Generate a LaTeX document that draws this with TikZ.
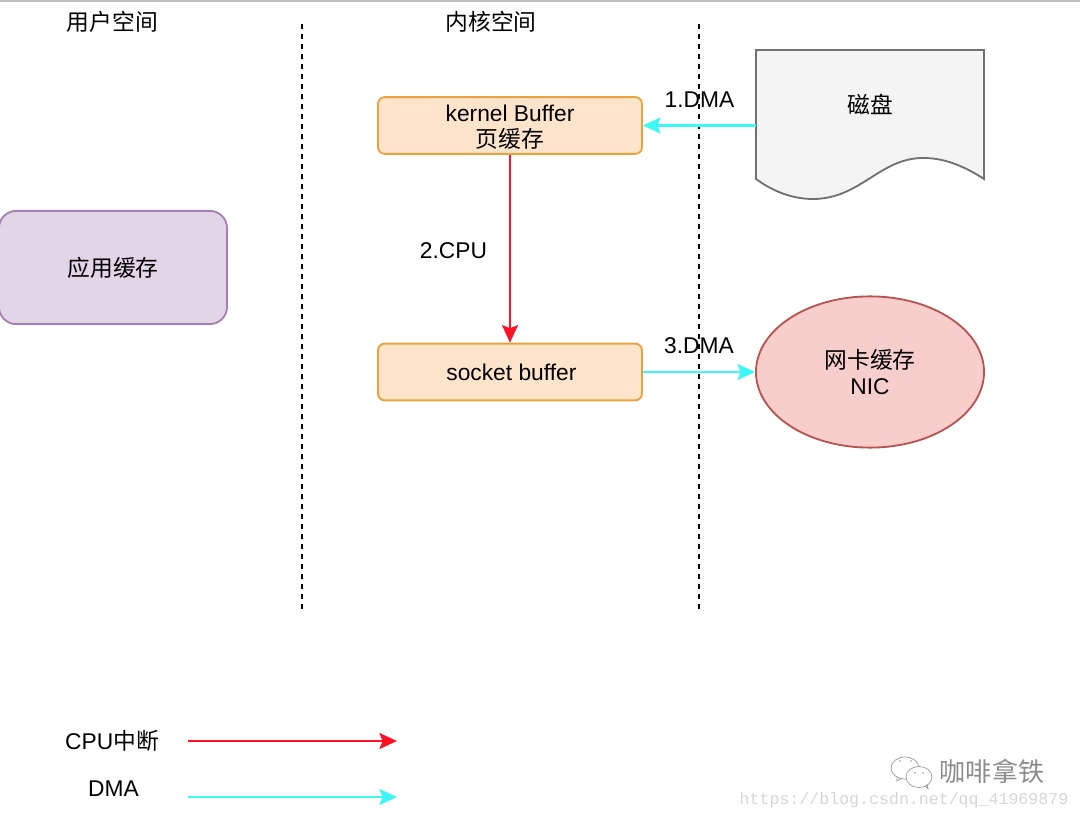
\documentclass[tikz,border=0pt]{standalone}
\usepackage{fontspec}
\setmainfont{Liberation Sans}
\newfontfamily\cjk{Noto Sans CJK SC}
\newfontfamily\wmono{Liberation Mono}
\usetikzlibrary{shapes,shapes.misc,arrows.meta}
\definecolor{cpured}{HTML}{FF1225}
\definecolor{dmacyan}{HTML}{3DF7F7}
\definecolor{bufline}{HTML}{E8A33D}
\definecolor{buffill}{HTML}{FFE4CC}
\definecolor{appline}{HTML}{A580B5}
\definecolor{appfill}{HTML}{E1D5E7}
\definecolor{nicline}{HTML}{B85450}
\definecolor{nicfill}{HTML}{F8CECC}
\definecolor{diskline}{HTML}{707070}
\definecolor{diskfill}{HTML}{F4F4F4}

\begin{document}
\begin{tikzpicture}[x=0.025cm,y=-0.025cm,font=\fontsize{16.2}{18.5}\selectfont]
   \tikzstyle{buffer}=[rectangle, rounded corners=0.17cm, draw=bufline, fill=buffill, line width=1.3pt, minimum width=6.6cm, minimum height=1.42cm, inner sep=0pt, align=center]
   \tikzstyle{cpuarrow}=[-{Stealth[length=0.44cm,width=0.4cm,inset=0.08cm]}, color=cpured, line width=1.5pt]
   \tikzstyle{dmaarrow}=[-{Stealth[length=0.44cm,width=0.4cm,inset=0.08cm]}, color=dmacyan, line width=1.5pt]
   \tikzstyle{divider}=[black, line width=1.2pt, dash pattern=on 0.125cm off 0.125cm]
   \tikzstyle{bubble}=[black!40, line width=0.5pt]
   \useasboundingbox (0,0) rectangle (1080,820);
   \coordinate (topleft) at (0,1);
   \coordinate (topright) at (1080,1);
   \draw[black!25, line width=1pt] (topleft) -- (topright);
   % dashed dividers
   \foreach \i/\x in {1/302,2/699} {
       \coordinate (top\i) at (\x,24);
       \coordinate (bottom\i) at (\x,609);
       \draw[divider] (top\i) -- (bottom\i);
   }
   \node (user) at (112.5,22) {\cjk 用户空间};
   \node (kernel) at (491,22) {\cjk 内核空间};
   \node[rectangle, rounded corners=0.43cm, draw=appline, fill=appfill, line width=1.3pt, minimum width=5.7cm, minimum height=2.83cm] (app) at (113,267.5) {\cjk 应用缓存};
   \node[buffer] (pagebuf) at (510,125.5) {\rule{0pt}{14.5pt}kernel Buffer\\{\cjk 页缓存}};
   \node[buffer] (sockbuf) at (510,372) {\hspace{2pt}socket buffer};
   % the paper shape round the disk
   \draw[draw=diskline, fill=diskfill, line width=1.3pt] (756,50) -- (984,50) -- (984,179) .. controls (955,160) and (935,158) .. (923,158) .. controls (880,158) and (860,199) .. (813,199) .. controls (795,199) and (775,193) .. (756,179) -- cycle;
   \node[minimum width=5.7cm, minimum height=3.75cm] (disk) at (870,125.5) {};
   \node (disklabel) at (870,105) {\cjk 磁盘};
   \node[ellipse, draw=nicline, fill=nicfill, line width=1.3pt, minimum width=5.7cm, minimum height=3.78cm, inner sep=0pt, align=center] (nic) at (870,372) {{\cjk 网卡缓存}\\NIC};
   \path[dmaarrow] (disk) edge (pagebuf);
   \path[cpuarrow] (pagebuf) edge (sockbuf);
   \path[dmaarrow] (sockbuf) edge (nic);
   \node (dma1) at (699.5,100) {1.DMA};
   \node (cpu2) at (453.5,251) {2.CPU};
   \node (dma3) at (699,346) {3.DMA};
   % legend
   \node (legendcpu) at (112,741) {CPU{\cjk 中断}};
   \node (legenddma) at (113.5,789) {DMA};
   \coordinate (cpustart) at (188,741);
   \coordinate (cpuend) at (397,741);
   \coordinate (dmastart) at (188,797);
   \coordinate (dmaend) at (397,797);
   \draw[cpuarrow] (cpustart) -- (cpuend);
   \draw[dmaarrow] (dmastart) -- (dmaend);
   % watermark
   \draw[bubble, fill=white] (905,768) ellipse [x radius=14, y radius=11];
   \draw[bubble] (897,777) -- (897,781) -- (902,778);
   \draw[bubble, fill=white] (919,777) ellipse [x radius=13, y radius=10.5];
   \draw[bubble] (925,786) -- (928,789) -- (927,784);
   \foreach \x/\y in {900/761,911/761,915/773,923/773} {
       \fill[black!40] (\x,\y) circle [radius=0.8];
   }
   \node[text=black!45, font=\fontsize{18.5}{20}\selectfont\cjk] (brand) at (992,771) {咖啡拿铁};
   \node[text=black!16, font=\fontsize{11.8}{13}\selectfont\wmono] (site) at (904,800) {https://blog.csdn.net/qq\_41969879};
\end{tikzpicture}
\end{document}
